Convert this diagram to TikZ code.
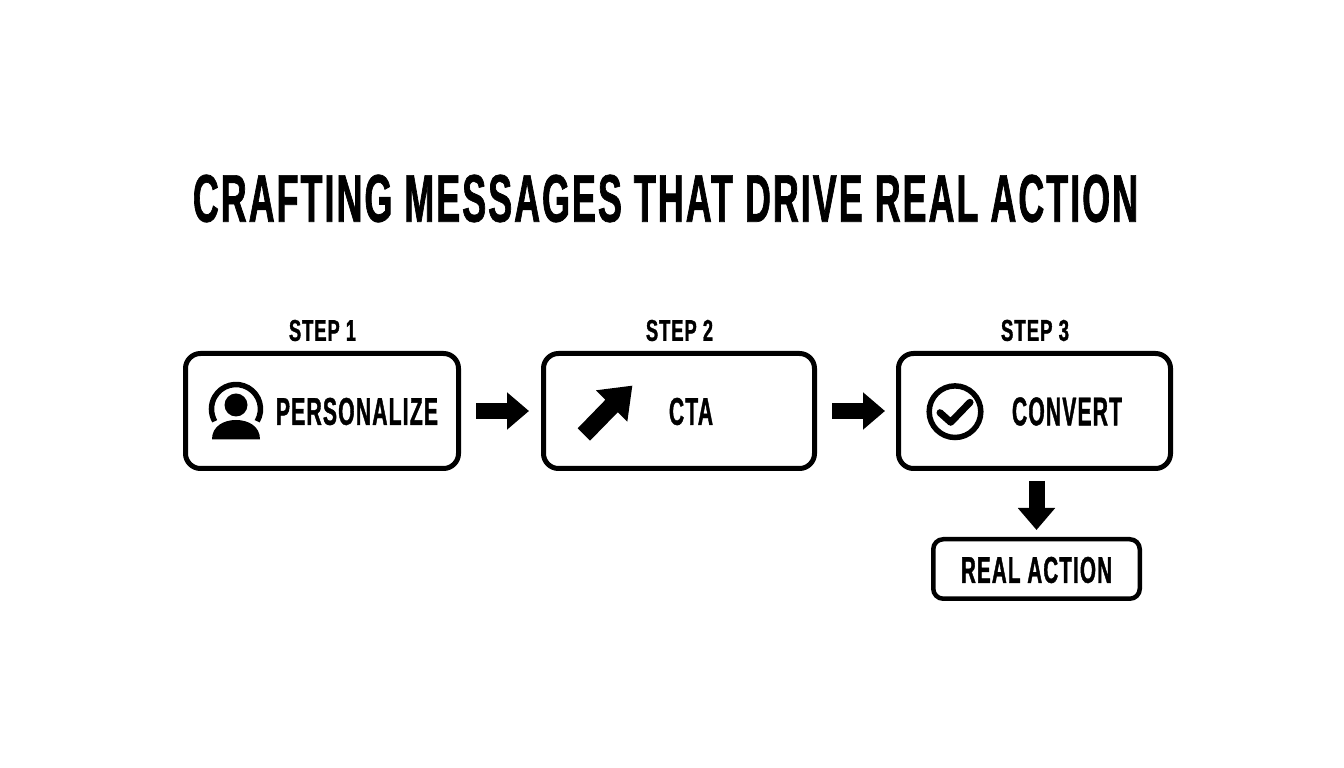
\documentclass[tikz,border=0pt]{standalone}
\usepackage{fontspec}
\usepackage{graphicx}
\usetikzlibrary{arrows.meta}
\newfontfamily\condfont[BoldFeatures={FakeStretch=0.53,FakeBold=1,LetterSpace=3}]{Liberation Sans}
\newcommand{\fittext}[3]{\resizebox{#1pt}{#2pt}{\condfont\bfseries #3}}
\tikzset{
  box/.style={draw=black,line width=5pt,rounded corners=15pt,fill=white,inner sep=0pt},
  realbox/.style={draw=black,line width=4.5pt,rounded corners=10pt,fill=white,inner sep=0pt},
  label/.style={inner sep=0pt,outer sep=0pt,text=black},
  flow/.style={draw=black,line width=16pt,-{Triangle[length=22pt,width=36pt]}},
  iconline/.style={draw=black,line width=5.5pt}
}
\begin{document}
\begin{tikzpicture}[x=1pt,y=1pt]
\useasboundingbox (0,0) rectangle (1344,768);
\fill[white] (0,0) rectangle (1344,768);
\node[label] (title) at (665.5,569.5) {\fittext{945}{47}{CRAFTING MESSAGES THAT DRIVE REAL ACTION}};
\node[box,minimum width=273pt,minimum height=115pt] (b1) at (322,357) {};
\node[box,minimum width=271pt,minimum height=115pt] (b2) at (679,357) {};
\node[box,minimum width=272pt,minimum height=115pt] (b3) at (1034.5,357) {};
\node[realbox,minimum width=206.5pt,minimum height=59.5pt] (real) at (1036.5,199) {};
\node[label] (s1) at (322.5,437.5) {\fittext{67}{21}{STEP 1}};
\node[label] (s2) at (679.5,437.5) {\fittext{67}{21}{STEP 2}};
\node[label] (s3) at (1035,437.5) {\fittext{68}{21}{STEP 3}};
\node[label] (t1) at (357,356.5) {\fittext{162}{27}{PERSONALIZE}};
\node[label] (t2) at (691,356.5) {\fittext{44}{27}{CTA}};
\node[label] (t3) at (1067,356.5) {\fittext{110}{28}{CONVERT}};
\node[label] (t4) at (1036.5,198) {\fittext{151}{26}{REAL ACTION}};
% person icon
\draw[iconline] (257.2,346.75) arc[start angle=-30,end angle=210,radius=24.5];
\fill[black] (236,363) circle (11.5);
\fill[black] (212,328.7) .. controls (212,342) and (224,348) .. (236,348) .. controls (248,348) and (260,342) .. (260,328.7) -- cycle;
% diagonal arrow icon
\fill[black] (632.3,382.3) -- (596,377.7) -- (605.4,368.2) -- (577.7,339.7) -- (590,327.3) -- (617.8,355.8) -- (627.3,346.3) -- cycle;
% check icon
\draw[iconline] (955,356.3) circle (25.8);
\draw[draw=black,line width=7pt,line cap=round,line join=round] (940,355.3) -- (950.7,345.7) -- (970,365.7);
% connectors
\draw[flow,shorten <=15pt,shorten >=12pt] (b1.east) -- (b2.west);
\draw[flow,shorten <=15pt,shorten >=11pt] (b2.east) -- (b3.west);
\draw[flow,shorten <=10pt,shorten >=7pt] (b3.south -| real.north) -- (real.north);
\end{tikzpicture}
\end{document}
